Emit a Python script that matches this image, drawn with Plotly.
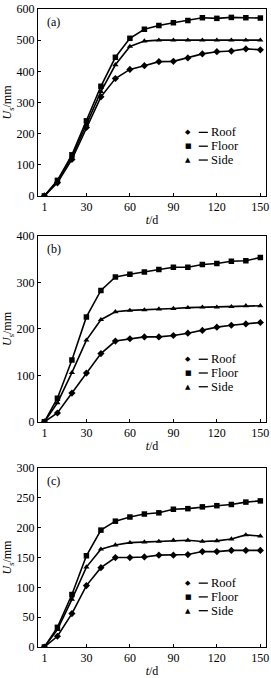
import plotly.graph_objects as go

t = [1, 10, 20, 30, 40, 50, 60, 70, 80, 90, 100, 110, 120, 130, 140, 150]

a_roof = [0, 42, 117, 220, 318, 377, 406, 418, 431, 432, 443, 456, 463, 465, 472, 469]
a_floor = [0, 50, 132, 241, 352, 445, 506, 535, 547, 556, 563, 572, 570, 573, 572, 571]
a_side = [0, 48, 125, 230, 335, 421, 480, 497, 500, 500, 500, 500, 500, 500, 500, 500]

b_roof = [0, 19, 62, 105, 147, 174, 179, 183, 183, 186, 191, 197, 204, 208, 211, 214]
b_floor = [0, 51, 133, 226, 283, 312, 318, 323, 328, 333, 333, 339, 341, 346, 347, 354]
b_side = [0, 41, 106, 176, 220, 237, 240, 241, 243, 244, 246, 247, 247, 248, 250, 250]

c_roof = [0, 18, 56, 103, 133, 150, 150, 151, 154, 154, 155, 160, 160, 162, 162, 162]
c_floor = [0, 33, 88, 153, 196, 211, 218, 223, 225, 231, 232, 235, 237, 239, 243, 245]
c_side = [0, 29, 80, 134, 164, 171, 175, 176, 177, 179, 179, 177, 178, 181, 188, 186]

series_names = ["Roof", "Floor", "Side"]
symbols = ["diamond", "square", "triangle-up"]
legend_glyphs = ["\u25c6", "\u25a0", "\u25b2"]
panels = ["(a)", "(b)", "(c)"]
y_ranges = [[0, 600], [0, 400], [0, 300]]
y_dticks = [100, 100, 50]
x_ticks = [1, 30, 60, 90, 120, 150]

panel_data = [
    [a_roof, a_floor, a_side],
    [b_roof, b_floor, b_side],
    [c_roof, c_floor, c_side],
]

FONT = "Liberation Serif"
y_domains = [[0.707, 1.0], [0.3529, 0.644], [0.0, 0.2804]]
legend_rows = [[0.340, 0.266, 0.192], [0.337, 0.263, 0.189], [0.357, 0.280, 0.203]]

fig = go.Figure()
layout = dict(
    width=271, height=678,
    margin=dict(l=38, r=2, t=3, b=26),
    paper_bgcolor="white", plot_bgcolor="white",
    font=dict(family=FONT, size=12, color="black"),
    annotations=[], shapes=[], showlegend=False,
)

for i in range(3):
    sfx = "" if i == 0 else str(i + 1)
    xd = "x" + sfx + " domain"
    yd = "y" + sfx + " domain"
    for j in range(3):
        fig.add_trace(go.Scatter(
            x=t, y=panel_data[i][j], name=series_names[j],
            mode="lines+markers",
            line=dict(color="black", width=1.6),
            marker=dict(symbol=symbols[j], size=5.5, color="black"),
            xaxis="x" + sfx, yaxis="y" + sfx,
        ))
        ry = legend_rows[i][j]
        layout["annotations"].append(dict(
            text=legend_glyphs[j], xref=xd, yref=yd, x=0.658, y=ry,
            xanchor="center", yanchor="middle", showarrow=False, borderpad=0,
            font=dict(family="DejaVu Sans", size=7, color="black"),
        ))
        layout["shapes"].append(dict(
            type="line", xref=xd, yref=yd, x0=0.705, x1=0.745, y0=ry, y1=ry,
            line=dict(color="black", width=1.3),
        ))
        layout["annotations"].append(dict(
            text=series_names[j], xref=xd, yref=yd, x=0.753, y=ry,
            xanchor="left", yanchor="middle", showarrow=False, borderpad=0,
            font=dict(family=FONT, size=12.5, color="black"),
        ))
    layout["xaxis" + sfx] = dict(
        domain=[0, 1], anchor="y" + sfx, range=[-3.4, 153.9],
        tickvals=x_ticks, ticks="inside", ticklen=3, tickcolor="black",
        showline=True, linecolor="black", linewidth=1, mirror=True,
        showgrid=False, zeroline=False, ticklabeloverflow="allow",
        tickfont=dict(family=FONT, size=12),
        title=dict(text="<i>t</i>/d", font=dict(family=FONT, size=12), standoff=2),
    )
    layout["yaxis" + sfx] = dict(
        domain=y_domains[i], anchor="x" + sfx, range=y_ranges[i],
        dtick=y_dticks[i], ticks="inside", ticklen=3, tickcolor="black",
        showline=True, linecolor="black", linewidth=1, mirror=True,
        showgrid=False, zeroline=False, ticklabeloverflow="allow",
        tickfont=dict(family=FONT, size=12),
        title=dict(text="<i>U</i><sub>s</sub>/mm", font=dict(family=FONT, size=12), standoff=2),
    )
    layout["annotations"].append(dict(
        text=panels[i], xref=xd, yref=yd,
        x=0.03, y=0.98, xanchor="left", yanchor="top", showarrow=False,
        font=dict(family=FONT, size=12),
    ))

fig.update_layout(**layout)
fig.write_html("out.html")
